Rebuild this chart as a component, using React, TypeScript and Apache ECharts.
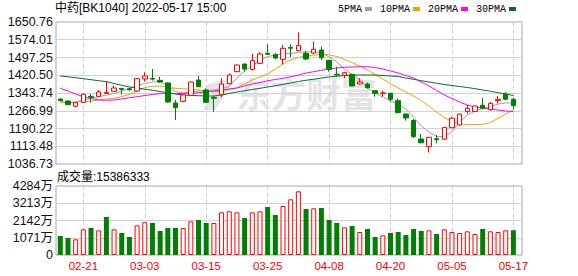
import { useEffect, useRef } from "react";
import * as echarts from "echarts";

const dates = [
  "02-16", "02-17", "02-18", "02-21", "02-22", "02-23", "02-24", "02-25", "02-28", "03-01",
  "03-02", "03-03", "03-04", "03-07", "03-08", "03-09", "03-10", "03-11", "03-14", "03-15",
  "03-16", "03-17", "03-18", "03-21", "03-22", "03-23", "03-24", "03-25", "03-28", "03-29",
  "03-30", "03-31", "04-01", "04-06", "04-07", "04-08", "04-11", "04-12", "04-13", "04-14",
  "04-15", "04-18", "04-19", "04-20", "04-21", "04-22", "04-25", "04-26", "04-27", "04-28",
  "04-29", "05-05", "05-06", "05-09", "05-10", "05-11", "05-12", "05-13", "05-16", "05-17",
];
const xLabelDates = ["02-21", "03-03", "03-15", "03-25", "04-08", "04-20", "05-05", "05-17"];

const openPrices = [
  1317.8, 1309.2, 1286.1, 1303.4, 1329.3, 1329.3, 1342.3, 1351.0, 1364.0, 1362.0,
  1352.4, 1404.3, 1407.0, 1398.5, 1387.0, 1300.5, 1307.7, 1333.7, 1400.0, 1356.7,
  1325.0, 1336.5, 1384.1, 1436.0, 1469.2, 1446.1, 1472.0, 1515.3, 1509.5, 1489.3,
  1541.2, 1526.8, 1515.3, 1516.7, 1529.7, 1485.0, 1425.0, 1420.1, 1424.5, 1382.7,
  1382.7, 1353.8, 1341.3, 1342.3, 1310.6, 1253.0, 1225.0, 1144.9, 1111.7, 1146.3,
  1144.0, 1193.9, 1205.4, 1263.5, 1263.5, 1291.0, 1271.5, 1311.0, 1339.4, 1316.4,
];
const closePrices = [
  1310.6, 1293.3, 1301.9, 1338.0, 1325.0, 1348.1, 1346.7, 1365.4, 1359.6, 1358.0,
  1405.7, 1417.3, 1404.0, 1391.3, 1304.8, 1280.4, 1335.1, 1391.3, 1371.1, 1303.4,
  1320.7, 1382.7, 1421.6, 1464.8, 1447.5, 1483.6, 1512.4, 1511.0, 1495.1, 1536.9,
  1537.2, 1548.4, 1490.8, 1532.6, 1496.5, 1446.1, 1422.0, 1431.7, 1374.0, 1391.3,
  1366.8, 1342.3, 1343.7, 1316.4, 1258.7, 1236.0, 1155.0, 1128.5, 1152.1, 1141.5,
  1195.3, 1235.0, 1252.5, 1277.5, 1287.5, 1278.0, 1299.1, 1316.4, 1316.6, 1289.0,
];
const lowPrices = [
  1308.0, 1291.0, 1281.8, 1302.0, 1302.0, 1327.0, 1339.4, 1349.0, 1336.5, 1352.0,
  1349.5, 1392.8, 1397.1, 1387.0, 1302.0, 1227.0, 1304.0, 1331.0, 1369.0, 1300.0,
  1263.0, 1325.0, 1382.0, 1434.0, 1436.0, 1440.3, 1470.0, 1509.0, 1489.3, 1467.7,
  1499.4, 1524.0, 1486.4, 1512.0, 1486.4, 1436.0, 1414.4, 1407.2, 1372.0, 1380.0,
  1362.5, 1327.9, 1327.9, 1307.7, 1257.0, 1224.1, 1149.2, 1126.0, 1086.5, 1126.1,
  1141.0, 1191.0, 1203.0, 1255.0, 1262.0, 1273.1, 1267.4, 1299.1, 1313.5, 1273.1,
];
const highPrices = [
  1320.0, 1311.0, 1303.0, 1339.0, 1339.4, 1356.7, 1395.6, 1375.5, 1365.0, 1366.0,
  1408.0, 1433.1, 1447.5, 1414.4, 1390.0, 1313.5, 1338.0, 1393.0, 1417.3, 1364.0,
  1330.8, 1407.2, 1428.8, 1467.0, 1471.0, 1513.8, 1519.6, 1555.6, 1515.3, 1551.3,
  1554.2, 1606.1, 1526.8, 1565.7, 1545.0, 1487.0, 1457.6, 1436.0, 1427.0, 1407.2,
  1388.4, 1356.0, 1353.8, 1345.0, 1319.3, 1255.0, 1231.3, 1166.5, 1153.0, 1162.2,
  1197.0, 1240.0, 1254.0, 1293.0, 1289.0, 1321.5, 1305.0, 1330.8, 1347.0, 1323.6,
];

const ma5 = [
  1309.2, 1300.5, 1304.8, 1313.5, 1319.9, 1327.7, 1335.1, 1341.6, 1352.4, 1364.1,
  1376.2, 1384.8, 1391.3, 1392.6, 1374.0, 1350.3, 1343.8, 1348.1, 1352.4, 1353.7,
  1356.7, 1363.2, 1371.0, 1408.6, 1438.9, 1460.5, 1486.5, 1501.6, 1508.1, 1512.4,
  1514.5, 1518.9, 1521.0, 1522.3, 1516.7, 1500.7, 1477.8, 1447.5, 1423.7, 1402.1,
  1365.4, 1343.8, 1326.5, 1309.2, 1296.2, 1274.6, 1239.9, 1201.1, 1175.1, 1155.6,
  1154.8, 1175.1, 1218.4, 1248.6, 1266.0, 1276.8, 1285.4, 1296.2, 1300.5, 1301.8,
];
const ma10 = [
  1301.8, 1302.7, 1304.8, 1306.1, 1309.2, 1313.5, 1317.8, 1320.8, 1328.6, 1337.3,
  1352.4, 1367.5, 1372.7, 1374.0, 1367.5, 1364.1, 1361.9, 1359.7, 1356.7, 1352.4,
  1349.4, 1352.4, 1358.9, 1365.4, 1382.7, 1400.0, 1413.0, 1425.9, 1447.5, 1469.2,
  1486.5, 1497.3, 1503.8, 1508.1, 1510.2, 1509.0, 1501.6, 1488.6, 1475.6, 1460.5,
  1443.2, 1423.7, 1404.3, 1384.8, 1365.4, 1348.1, 1330.8, 1311.3, 1287.5, 1261.6,
  1237.8, 1220.5, 1209.7, 1207.5, 1207.5, 1208.4, 1216.2, 1234.4, 1252.9, 1270.3,
];
const ma20 = [
  1364.1, 1352.4, 1339.4, 1327.7, 1319.9, 1313.5, 1312.2, 1313.5, 1317.8, 1323.0,
  1327.7, 1332.9, 1337.3, 1341.2, 1341.6, 1341.2, 1341.6, 1342.9, 1345.0, 1348.5,
  1352.4, 1356.7, 1361.1, 1365.4, 1374.1, 1382.7, 1389.2, 1396.6, 1402.2, 1407.3,
  1414.3, 1420.7, 1430.2, 1435.9, 1441.9, 1447.5, 1451.9, 1454.9, 1456.2, 1457.5,
  1457.5, 1454.0, 1447.5, 1438.9, 1430.2, 1419.4, 1408.6, 1391.3, 1374.0, 1354.6,
  1335.1, 1319.9, 1304.8, 1291.8, 1283.2, 1278.9, 1274.6, 1270.3, 1265.9, 1262.9,
];
const ma30 = [
  1417.3, 1413.8, 1409.9, 1405.6, 1401.3, 1397.0, 1392.6, 1384.8, 1377.1, 1369.7,
  1365.4, 1360.2, 1355.4, 1350.2, 1345.0, 1339.4, 1335.1, 1332.9, 1332.1, 1330.8,
  1330.8, 1335.1, 1341.6, 1348.1, 1353.7, 1358.9, 1364.1, 1369.7, 1375.3, 1381.4,
  1387.0, 1393.5, 1398.7, 1403.4, 1408.6, 1412.9, 1416.4, 1419.0, 1420.7, 1421.6,
  1421.6, 1421.6, 1419.4, 1417.3, 1415.1, 1408.6, 1403.0, 1397.0, 1391.4, 1386.1,
  1380.5, 1376.2, 1371.9, 1367.6, 1362.4, 1356.7, 1351.5, 1345.0, 1339.4, 1332.9,
];

// volume in 万 (10,000 shares)
const volumes = [
  1180, 1056, 973, 1593, 1676, 1531, 2359, 1593, 1366, 1118,
  1842, 2028, 1987, 1490, 1676, 1676, 1676, 2090, 2173, 1987,
  1987, 2649, 2711, 2649, 2297, 2649, 2711, 2980, 2484, 3042,
  3456, 3953, 2856, 2897, 2918, 2173, 1987, 1718, 1801, 1428,
  1614, 1118, 1221, 1366, 1428, 1242, 1614, 1490, 1531, 1304,
  1593, 1428, 1366, 1469, 1304, 1614, 1469, 1428, 1531, 1538.6333,
];
const volumeUp = [
  0, 0, 1, 1, 0, 1, 0, 1, 0, 0,
  1, 1, 0, 0, 0, 0, 1, 1, 0, 0,
  1, 1, 1, 1, 0, 1, 1, 0, 0, 1,
  1, 1, 0, 1, 0, 0, 0, 1, 0, 1,
  0, 0, 1, 0, 0, 0, 0, 0, 1, 0,
  1, 1, 1, 1, 1, 0, 1, 1, 1, 0,
];

const priceTicks = ["1036.73", "1113.48", "1190.22", "1266.99", "1343.74", "1420.50", "1497.25", "1574.01", "1650.76"];
const volumeTicks = [0, 1071, 2142, 3213, 4284];
const maNames = ["5PMA", "10PMA", "20PMA", "30PMA"];
const titleText = "中药[BK1040] 2022-05-17 15:00";
const lastVolumeText = "成交量:15386333";
const watermarkText = "东方财富";

const UP = "#ff0000";
const DOWN = "#008000";
const MA_COLORS = ["#a0a0a0", "#f2a100", "#ff00ff", "#0b6b33"];
const FONT = '"Liberation Sans", "Noto Sans CJK SC", sans-serif';
const WM = "#e4e4e8";

export default function App() {
  const ref = useRef<HTMLDivElement>(null);

  useEffect(() => {
    const chart = echarts.init(ref.current!, undefined, { renderer: "svg" });
    const xTicks = xLabelDates.map((d) => dates.indexOf(d));
    const priceTickValues = priceTicks.map(Number);
    const xMin = -0.56;
    const xMax = 60.12;
    const maData = [ma5, ma10, ma20, ma30];

    const xAxisCommon = (gridIndex: number, showLabel: boolean) => ({
      type: "value",
      gridIndex,
      min: xMin,
      max: xMax,
      axisLine: { show: false },
      axisTick: { show: false, customValues: xTicks },
      axisLabel: {
        show: showLabel,
        customValues: xTicks,
        formatter: (v: number) => dates[Math.round(v)] ?? "",
        color: "#ff0000",
        fontSize: 11.5,
        margin: 5,
        fontFamily: FONT,
      },
      splitLine: { show: true, lineStyle: { color: "#cfcfcf", type: [4, 3], width: 1 } },
    });

    const option: any = {
      animation: false,
      backgroundColor: "#ffffff",
      textStyle: { fontFamily: FONT },
      title: [
        {
          text: titleText,
          left: 55,
          top: 2,
          padding: 0,
          textStyle: { fontSize: 12, fontWeight: "normal", color: "#000", fontFamily: FONT },
        },
        {
          text: lastVolumeText,
          left: 57,
          top: 171,
          padding: 0,
          textStyle: { fontSize: 12, fontWeight: "normal", color: "#000", fontFamily: FONT },
        },
      ],
      legend: {
        data: maNames,
        left: 338,
        top: 4,
        width: 236,
        padding: 0,
        align: "right",
        icon: "rect",
        itemWidth: 7,
        itemHeight: 4,
        itemGap: 8,
        textStyle: {
          fontSize: 10,
          color: "#000",
          fontFamily: '"Liberation Mono", monospace',
          padding: [0, -2, 0, 0],
        },
      },
      graphic: [
        {
          type: "polygon",
          z: -10,
          silent: true,
          shape: { points: [[221, 80], [234, 80], [215, 110], [203, 110]] },
          style: { fill: WM },
        },
        {
          type: "polygon",
          z: -10,
          silent: true,
          shape: { points: [[206, 85], [222, 80], [219, 88], [208, 91]] },
          style: { fill: WM },
        },
        {
          type: "text",
          left: 236,
          top: 75,
          z: -10,
          silent: true,
          style: {
            text: watermarkText,
            fontSize: 35,
            fontWeight: "bold",
            fill: WM,
            fontFamily: '"Noto Sans CJK SC", sans-serif',
          },
        },
      ],
      grid: [
        { left: 56, right: 56, top: 22, height: 142, show: true, borderColor: "#a8a8a8", borderWidth: 1, backgroundColor: "transparent" },
        { left: 56, right: 56, top: 186, height: 69, show: true, borderColor: "#a8a8a8", borderWidth: 1, backgroundColor: "transparent" },
      ],
      xAxis: [xAxisCommon(0, false), xAxisCommon(1, true)],
      yAxis: [
        {
          type: "value",
          gridIndex: 0,
          min: priceTickValues[0],
          max: priceTickValues[priceTickValues.length - 1],
          axisLine: { show: false },
          axisTick: { show: false, customValues: priceTickValues },
          axisLabel: {
            customValues: priceTickValues,
            formatter: (v: number) => v.toFixed(2),
            color: "#111",
            fontSize: 12.5,
            margin: 3,
            fontFamily: FONT,
          },
          splitLine: { show: true, lineStyle: { color: "#d2d2d2", width: 1 } },
        },
        {
          type: "value",
          gridIndex: 1,
          min: 0,
          max: volumeTicks[volumeTicks.length - 1],
          interval: volumeTicks[1],
          axisLine: { show: false },
          axisTick: { show: false },
          axisLabel: {
            formatter: (v: number) => (v === 0 ? "0" : `${v}万`),
            color: "#111",
            fontSize: 12.5,
            margin: 3,
            fontFamily: FONT,
          },
          splitLine: { show: true, lineStyle: { color: "#d2d2d2", width: 1 } },
        },
      ],
      series: [
        ...maNames.map((name, k) => ({
          name,
          type: "line",
          xAxisIndex: 0,
          yAxisIndex: 0,
          data: maData[k].map((v, i) => [i, v]),
          showSymbol: false,
          symbol: "none",
          color: MA_COLORS[k],
          lineStyle: { color: MA_COLORS[k], width: 1 },
          z: 2,
          silent: true,
        })),
        {
          type: "candlestick",
          xAxisIndex: 0,
          yAxisIndex: 0,
          data: dates.map((_, i) => [i, openPrices[i], closePrices[i], lowPrices[i], highPrices[i]]),
          encode: { x: 0, y: [1, 2, 3, 4] },
          barWidth: 5,
          itemStyle: {
            color: "#ffffff",
            color0: DOWN,
            borderColor: UP,
            borderColor0: DOWN,
            borderWidth: 1,
          },
          z: 3,
          silent: true,
        },
        {
          type: "bar",
          xAxisIndex: 1,
          yAxisIndex: 1,
          barWidth: 5,
          data: volumes.map((v, i) => ({
            value: [i, v],
            itemStyle: volumeUp[i]
              ? { color: "#ffffff", borderColor: UP, borderWidth: 1 }
              : { color: DOWN, borderColor: DOWN, borderWidth: 0 },
          })),
          silent: true,
        },
      ],
    };

    chart.setOption(option);
    return () => chart.dispose();
  }, []);

  return (
    <div
      ref={ref}
      style={{ position: "fixed", left: 0, top: 0, width: 578, height: 276 }}
    />
  );
}
